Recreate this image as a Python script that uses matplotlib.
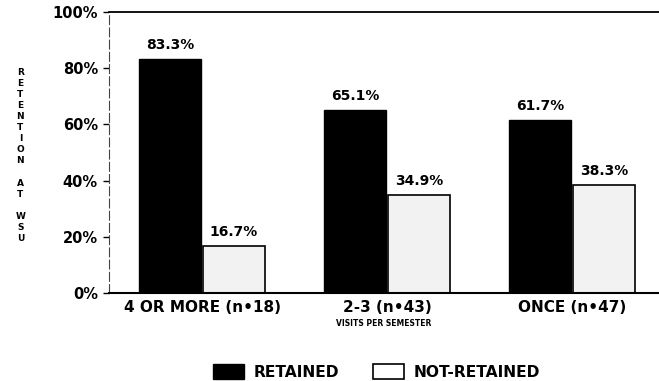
import matplotlib
matplotlib.use("Agg")
import matplotlib.pyplot as plt
from matplotlib.patches import Patch
import numpy as np

categories = ["4 OR MORE (n\u202218)", "2-3 (n\u202243)", "ONCE (n\u202247)"]
retained = [83.3, 65.1, 61.7]
not_retained = [16.7, 34.9, 38.3]
yticks = [0, 20, 40, 60, 80, 100]
series_names = ["RETAINED", "NOT-RETAINED"]

plt.rcParams["font.family"] = ["DejaVu Sans"]

fig = plt.figure(figsize=(6.59, 3.81), dpi=100)
ax = fig.add_axes([0.1654, 0.231, 0.8346, 0.7375])

x = np.arange(len(categories))
w = 0.335
b1 = ax.bar(x - w / 2 - 0.005, retained, width=w, color="black", edgecolor="black", linewidth=1)
b2 = ax.bar(x + w / 2 + 0.005, not_retained, width=w, color="#f2f2f2", edgecolor="black", linewidth=1.2)

for rect, v in zip(list(b1) + list(b2), retained + not_retained):
    ax.text(rect.get_x() + rect.get_width() / 2, v + 2.5, f"{v:.1f}%",
            ha="center", va="bottom", fontsize=10, fontweight="bold")

ax.set_xlim(-0.503, 2.47)
ax.set_ylim(0, 100)
ax.set_yticks(yticks)
ax.set_yticklabels([f"{t}%" for t in yticks], fontsize=10.5, fontweight="bold")
ax.set_xticks(x)
ax.set_xticklabels(categories, fontsize=11, fontweight="bold")
ax.tick_params(axis="x", length=0, pad=5)
ax.tick_params(axis="y", direction="out", length=4, width=1, pad=4)

ax.spines["right"].set_visible(False)
ax.spines["top"].set_linewidth(1.3)
ax.spines["bottom"].set_linewidth(1.5)
ax.spines["left"].set_linewidth(0.8)
ax.spines["left"].set_color("#444444")
ax.spines["left"].set_linestyle((0, (8, 3)))

ax.set_xlabel("VISITS PER SEMESTER", fontsize=5.5, fontweight="bold", labelpad=3)

fig.text(0.031, 0.592, "\n".join("RETENTION AT WSU"), ha="center", va="center",
         fontsize=6.5, fontweight="bold", linespacing=1.3)

handles = [Patch(facecolor="black", edgecolor="black"),
           Patch(facecolor="white", edgecolor="black", linewidth=1.2)]
fig.legend(handles, series_names, loc="center", bbox_to_anchor=(0.571, 0.024),
           ncol=2, frameon=False, handlelength=2.0, handleheight=1.1,
           columnspacing=2.2, handletextpad=0.6, prop={"weight": "bold", "size": 11.2})

fig.savefig("out.png", dpi=100)
